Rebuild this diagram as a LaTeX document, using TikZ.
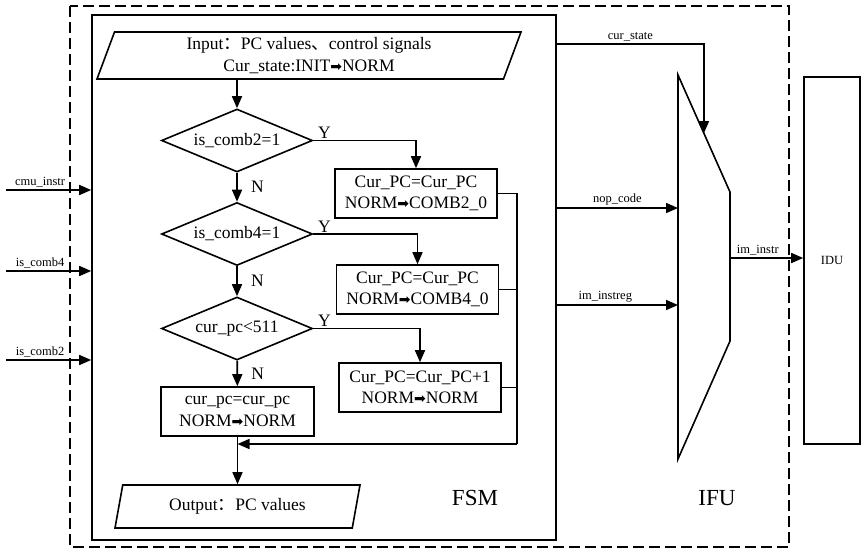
\documentclass[tikz,border=0pt]{standalone}
\usepackage{fontspec}
\setmainfont{Liberation Serif}
\newfontfamily\cjkfont{Noto Sans CJK SC}
\newfontfamily\symfont{DejaVu Sans}
\usetikzlibrary{shapes.geometric,arrows.meta}
\newcommand{\goesto}{{\symfont\scalebox{0.8}{➡}}}
\newcommand{\fw}[1]{{\cjkfont #1}}

\tikzset{
	tip/.style={-{Triangle[length=12pt,width=10pt]}},
	decide/.style={draw, diamond, aspect=2.4, inner sep=0pt, minimum width=151, minimum height=63},
	stepbox/.style={draw, align=center, inner sep=0pt, minimum width=162, minimum height=49},
	io/.style={draw, trapezium, trapezium left angle=64, trapezium right angle=116,
		trapezium stretches body, align=center, inner sep=0pt},
	sig/.style={font=\fontsize{12.5}{14}\selectfont, inner sep=2pt},
	yes/.style={anchor=south west, inner sep=1pt, xshift=3pt},
	big/.style={font=\fontsize{23}{26}\selectfont}
}

\begin{document}
\begin{tikzpicture}[x=1pt, y=-1pt, line width=1.6pt, font=\fontsize{17.5}{21.5}\selectfont]
		%%%%% START %%%%%
		\useasboundingbox (0,0) rectangle (862,550);
		
		% IFU boundary
		\draw[line width=2.2pt, dash pattern=on 11pt off 5pt] (70,6) rectangle (789,547);
		
		% FSM block
		\node[draw, minimum width=464, minimum height=525] (fsm) at (324,277.5) {};
		\node[big] (fsmlbl) at (475,498) {FSM};
		
		\node[io, minimum width=424, minimum height=47] (in) at (309,55.5)
			{Input\fw{：}PC values\fw{、}control signals\\Cur\_state:INIT\goesto NORM};
		
		\node[decide] (d1) at (237,140.5) {is\_comb2=1};
		\node[decide] (d2) at (237,234) {is\_comb4=1};
		\node[decide] (d3) at (237,328.5) {cur\_pc<511};
		
		\node[stepbox] (b1) at (416,193.5) {Cur\_PC=Cur\_PC\\NORM\goesto COMB2\_0};
		\node[stepbox] (b2) at (417.5,289.5) {Cur\_PC=Cur\_PC\\NORM\goesto COMB4\_0};
		\node[stepbox] (b3) at (420,387.5) {Cur\_PC=Cur\_PC+1\\NORM\goesto NORM};
		\node[stepbox, minimum width=153] (b4) at (237.5,411.5) {cur\_pc=cur\_pc\\NORM\goesto NORM};
		
		\node[io, minimum width=245, minimum height=43] (out) at (237.5,506.5) {Output\fw{：}PC values};
		
		% flow
		\draw[tip] (in.south -| d1) -- (d1);
		\draw[tip] (d1) -- node[right=10pt] {N} (d2);
		\draw[tip] (d2) -- node[right=10pt] {N} (d3);
		\draw[tip] (d3) -- node[right=10pt] {N} (b4);
		\draw[tip] (d1.east) node[yes] {Y} -| (b1.north);
		\draw[tip] (d2.east) node[yes] {Y} -| (b2.north);
		\draw[tip] (d3.east) node[yes] {Y} -| (b3.north);
		
		\coordinate (bus) at (517,444);
		\draw (b1.east) -| (bus);
		\draw (b2.east) -- (b2.east -| bus);
		\draw (b3.east) -- (b3.east -| bus);
		\draw[tip] (bus) -- (bus -| b4);
		\draw[tip] (b4) -- (out);
		
		% FSM inputs
		\coordinate (cmu) at (6,190);
		\coordinate (c4) at (6,271);
		\coordinate (c2) at (6,360);
		\draw[tip] (cmu) -- node[sig, above, pos=.4] {cmu\_instr} (cmu -| fsm.west);
		\draw[tip] (c4) -- node[sig, above, pos=.4] {is\_comb4} (c4 -| fsm.west);
		\draw[tip] (c2) -- node[sig, above, pos=.4] {is\_comb2} (c2 -| fsm.west);
		
		% instruction mux
		\coordinate (m1) at (678,75);
		\coordinate (m2) at (730,192);
		\coordinate (m3) at (730,341);
		\coordinate (m4) at (678,459);
		\draw (m1) -- (m2) -- (m3) -- (m4) -- cycle;
		\node[big] (ifulbl) at (717,498) {IFU};
		
		\coordinate (sel) at (704,133);
		\coordinate (nop) at (678,208);
		\coordinate (reg) at (678,305);
		\coordinate (mout) at (730,258);
		\draw[tip] (fsm.east |- 0,44) -- node[sig, above] {cur\_state} (sel |- 0,44) -- (sel);
		\draw[tip] (nop -| fsm.east) -- node[sig, above] {nop\_code} (nop);
		\draw[tip] (reg -| fsm.east) -- node[sig, above, pos=.4] {im\_instreg} (reg);
		
		\node[draw, sig, minimum width=56, minimum height=367] (idu) at (832,260.5) {IDU};
		\draw[tip] (mout) -- node[sig, above, pos=.38] {im\_instr} (mout -| idu.west);
		
		%%%%% END %%%%%
	\end{tikzpicture}
\end{document}
